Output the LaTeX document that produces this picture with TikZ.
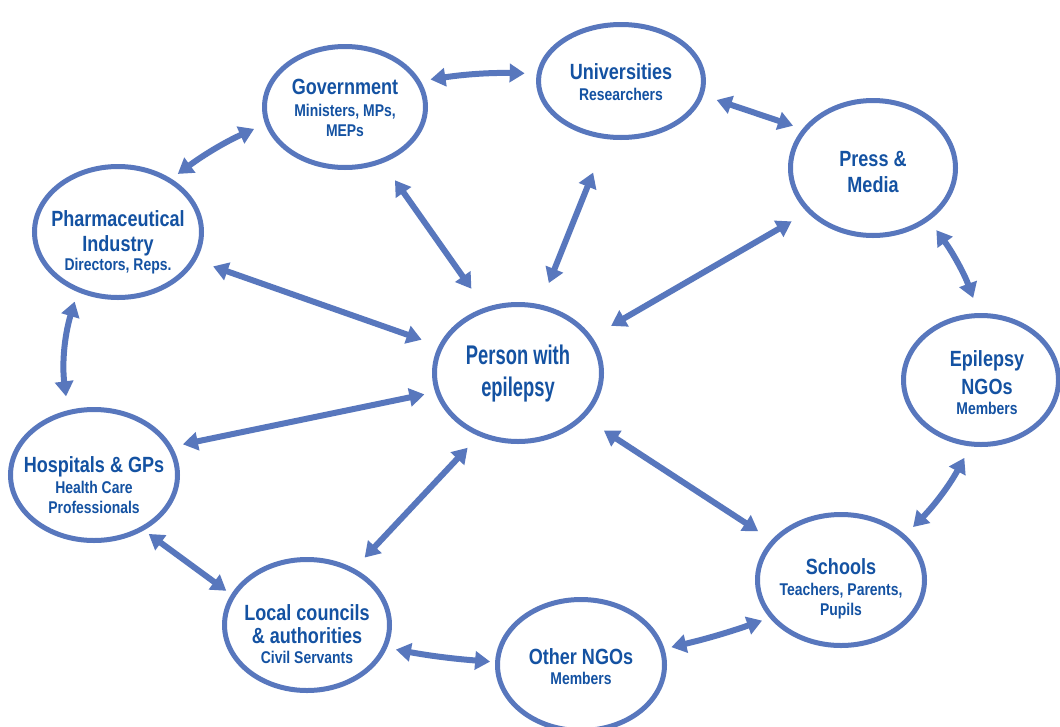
\documentclass[tikz,border=0pt]{standalone}
\usepackage{fontspec}
\setmainfont{Liberation Sans}[FakeStretch=0.82]
\newfontfamily\narrowfont{Liberation Sans}[FakeStretch=0.68]
\usetikzlibrary{arrows.meta,shapes.geometric}

\definecolor{ringblue}{RGB}{88,119,189}
\definecolor{textblue}{RGB}{20,82,162}
\newcommand{\ttl}[1]{{\fontsize{22}{22}\selectfont #1}}

\begin{document}
\begin{tikzpicture}[x=1pt, y=-1pt,
    ring/.style={ellipse, draw=ringblue, line width=5pt, inner sep=0pt},
    txt/.style={text=textblue, font=\bfseries\fontsize{17}{20}\selectfont, align=center, inner sep=0pt},
    twoway/.style={{Triangle[length=15pt,width=18pt]}-{Triangle[length=15pt,width=18pt]}, draw=ringblue, line width=6pt}]

    % Page
    \useasboundingbox (0,0) rectangle (1060,726);
    \fill[white] (0,0) rectangle (1060,726);

    % Draw the rings
    \node[ring, minimum width=161pt, minimum height=121pt] (gov) at (345,107) {};
    \node[ring, minimum width=165pt, minimum height=113pt] (uni) at (621,81) {};
    \node[ring, minimum width=165pt, minimum height=135pt] (press) at (873,168) {};
    \node[ring, minimum width=167pt, minimum height=131pt] (pharma) at (118,232) {};
    \node[ring, minimum width=167pt, minimum height=137pt] (person) at (518,373) {};
    \node[ring, minimum width=155pt, minimum height=129pt] (engo) at (981,380) {};
    \node[ring, minimum width=167pt, minimum height=131pt] (hosp) at (94,475) {};
    \node[ring, minimum width=165pt, minimum height=131pt] (local) at (307,625) {};
    \node[ring, minimum width=167pt, minimum height=131pt] (ongo) at (581,665) {};
    \node[ring, minimum width=167pt, minimum height=131pt] (school) at (841,580) {};

    % Texts in the rings
    \node[txt, yshift=-1pt] (govtext) at (gov) {\ttl{Government}\\[2pt] Ministers, MPs,\\ MEPs};
    \node[txt, yshift=-1pt] (unitext) at (uni) {\ttl{Universities}\\[1pt] Researchers};
    \node[txt, yshift=-4pt] (presstext) at (press) {\ttl{Press \&}\\[6pt] \ttl{Media}};
    \node[txt, yshift=-10pt] (pharmatext) at (pharma) {\ttl{Pharmaceutical}\\[5pt] \ttl{Industry}\\[-1pt] Directors, Reps.};
    \node[txt, font=\narrowfont\bfseries\fontsize{27}{32}\selectfont, yshift=-1pt] (persontext) at (person) {Person with\\ epilepsy};
    \node[txt, xshift=6pt, yshift=-3pt] (engotext) at (engo) {\ttl{Epilepsy}\\[8pt] \ttl{NGOs}\\ Members};
    \node[txt, yshift=-10pt] (hosptext) at (hosp) {\ttl{Hospitals \& GPs}\\[1pt] Health Care\\ Professionals};
    \node[txt, yshift=-9pt] (localtext) at (local) {\ttl{Local councils}\\[3pt] \ttl{\& authorities}\\ Civil Servants};
    \node[txt, yshift=-2pt] (ongotext) at (ongo) {\ttl{Other NGOs}\\ Members};
    \node[txt, yshift=-9pt] (schooltext) at (school) {\ttl{Schools}\\[1pt] Teachers, Parents,\\ Pupils};

    % Arrows round the outside and from the person
    \foreach \src/\sa/\dst/\da/\gs/\gd/\bend in {
        gov/19/uni/175/10/12/5,
        uni/-10/press/151/14/10/0,
        press/-43/engo/92/12/16/8,
        engo/-99/school/35/13/11/8,
        school/-152/ongo/11/8/7/3,
        ongo/178/local/-16/5/9/3,
        local/158/hosp/-48/6/6/0,
        hosp/112/pharma/-124/14/10/12,
        pharma/45/gov/192/8/12/6,
        person/117/gov/-56/23/21/0,
        person/72/uni/-104/23/36/0,
        person/26/press/214/22/18/0,
        person/161/pharma/-20/18/18/0,
        person/193/hosp/20/11/11/0,
        person/238/local/50/16/15/0,
        person/-34/school/150/23/16/0}
        \draw[twoway, shorten <=\gs pt, shorten >=\gd pt] (\src.\sa) to[bend left=\bend] (\dst.\da);
\end{tikzpicture}
\end{document}
